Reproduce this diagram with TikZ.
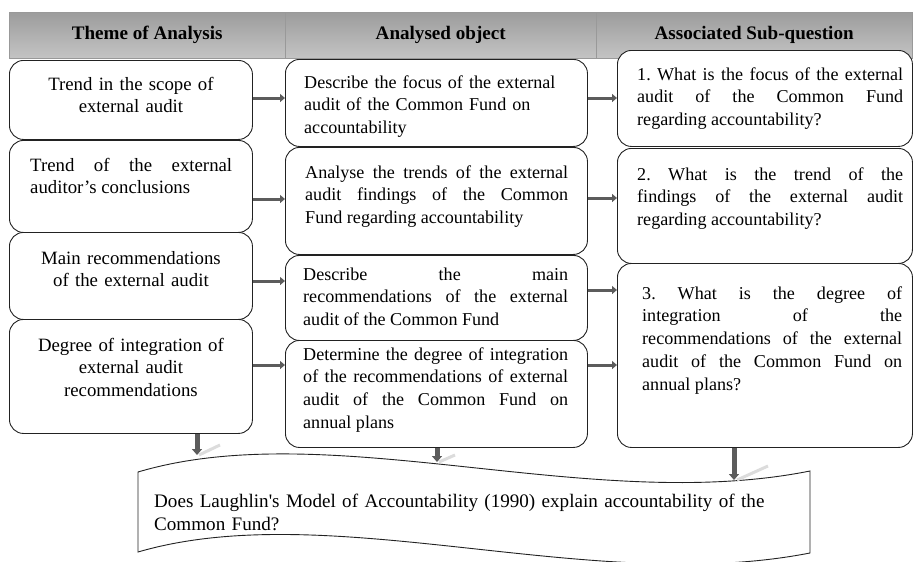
\documentclass[tikz,border=0pt]{standalone}
\usepackage{fontspec}
\setmainfont{Liberation Serif}
\usetikzlibrary{positioning}
\usetikzlibrary{arrows.meta}
\definecolor{hdtop}{HTML}{9C9C9C}
\definecolor{hdmid}{HTML}{878787}
\definecolor{hdbot}{HTML}{C4C4C4}
\definecolor{rim}{HTML}{222222}
\definecolor{arr}{HTML}{5C5C5C}
\definecolor{glint}{HTML}{DCDCDC}
\newcommand{\leftsize}{\fontsize{18.8pt}{22.8pt}\selectfont}
\newcommand{\boxsize}{\fontsize{18.1pt}{22.8pt}\selectfont}
\newcommand{\headsize}{\fontsize{19.1pt}{23pt}\selectfont\bfseries}
\tolerance=10000
\hbadness=10000
\hyphenpenalty=10000
\frenchspacing
\tikzset{
	head/.style={anchor=north west, inner sep=0pt, draw=black!40, top color=hdtop, middle color=hdmid, bottom color=hdbot, minimum height=46pt, font=\headsize},
	cell/.style={anchor=north west, inner sep=0pt, draw=rim, fill=white, line width=0.9pt, rounded corners=14pt},
	txt/.style={inner sep=0pt, font=\boxsize},
	hflow/.style={draw=arr, line width=3pt, -{Triangle[length=5pt,width=8pt]}},
	vflow/.style={draw=arr, line width=5pt, -{Triangle[length=6pt,width=10pt]}},
	glare/.style={draw=glint, line width=3pt},
}

\begin{document}
\begin{tikzpicture}[x=1pt, y=1pt]
			\useasboundingbox (0,0) rectangle (914,-562);

			\node[head, minimum width=276pt] (h1) at (9,-12) {Theme of Analysis};
			\node[head, minimum width=311pt] (h2) at (285,-12) {Analysed object};
			\node[head, minimum width=316pt] (h3) at (596,-12) {Associated Sub-question};

			\node[cell, minimum width=243pt, minimum height=79pt] (l1) at (9,-60) {};
			\node[cell, minimum width=243pt, minimum height=92pt] (l2) at (9,-140) {};
			\node[cell, minimum width=243pt, minimum height=87pt] (l3) at (9,-232) {};
			\node[cell, minimum width=243pt, minimum height=114pt] (l4) at (9,-319) {};

			\node[cell, minimum width=302pt, minimum height=87pt] (m1) at (285,-59) {};
			\node[cell, minimum width=302pt, minimum height=107pt] (m2) at (285,-147) {};
			\node[cell, minimum width=302pt, minimum height=85pt] (m3) at (285,-255) {};
			\node[cell, minimum width=302pt, minimum height=107pt] (m4) at (285,-340) {};

			\node[cell, minimum width=295pt, minimum height=96pt] (r1) at (617,-50) {};
			\node[cell, minimum width=295pt, minimum height=115pt] (r2) at (617,-148) {};
			\node[cell, minimum width=295pt, minimum height=184pt] (r3) at (617,-263) {};

			\node[txt, font=\leftsize, anchor=base, text width=230pt, align=center] (l1t) at ([yshift=-30pt]l1.north) {Trend in the scope of\\external audit};
			\node[txt, font=\leftsize, anchor=base west, text width=202pt, align=justify] (l2t) at ([xshift=21pt,yshift=-31pt]l2.north west) {Trend of the external\linebreak auditor’s conclusions};
			\node[txt, font=\leftsize, anchor=base, text width=230pt, align=center] (l3t) at ([yshift=-32pt]l3.north) {Main recommendations\\of the external audit};
			\node[txt, font=\leftsize, anchor=base, text width=230pt, align=center] (l4t) at ([yshift=-32pt]l4.north) {Degree of integration of\\external audit\\recommendations};

			\node[txt, anchor=base west, text width=265pt, align=left] (m1t) at ([xshift=19pt,yshift=-29pt]m1.north west) {Describe the focus of the external\\audit of the Common Fund on\\accountability};
			\node[txt, anchor=base west, text width=263pt, align=justify] (m2t) at ([xshift=20pt,yshift=-31pt]m2.north west) {Analyse the trends of the external\linebreak audit findings of the Common\linebreak Fund regarding accountability};
			\node[txt, anchor=base west, text width=265pt, align=justify] (m3t) at ([xshift=18pt,yshift=-25pt]m3.north west) {Describe the main\linebreak recommendations of the external\linebreak audit of the Common Fund};
			\node[txt, anchor=base west, text width=265pt, align=justify] (m4t) at ([xshift=18pt,yshift=-20pt]m4.north west) {Determine the degree of integration\linebreak of the recommendations of external\linebreak audit of the Common Fund on\linebreak annual plans};

			\node[txt, anchor=base west, text width=266pt, align=justify] (r1t) at ([xshift=20pt,yshift=-30pt]r1.north west) {1. What is the focus of the external\linebreak audit of the Common Fund\linebreak regarding accountability?};
			\node[txt, anchor=base west, text width=266pt, align=justify] (r2t) at ([xshift=20pt,yshift=-32pt]r2.north west) {2. What is the trend of the\linebreak findings of the external audit\linebreak regarding accountability?};
			\node[txt, anchor=base west, text width=260pt, align=justify] (r3t) at ([xshift=25pt,yshift=-36pt]r3.north west) {3. What is the degree of\linebreak integration of the\linebreak recommendations of the external\linebreak audit of the Common Fund on\linebreak annual plans?};

			\coordinate (a1) at ([yshift=-38pt]l1.north east);
			\coordinate (a2) at ([yshift=-59pt]l2.north east);
			\coordinate (a3) at ([yshift=-49pt]l3.north east);
			\coordinate (a4) at ([yshift=-46pt]l4.north east);
			\coordinate (b1) at ([yshift=-39pt]m1.north east);
			\coordinate (b2) at ([yshift=-51pt]m2.north east);
			\coordinate (b3) at ([yshift=-35pt]m3.north east);
			\coordinate (b4) at ([yshift=-25pt]m4.north east);
			\draw[hflow] (a1) -- (a1 -| m1.west);
			\draw[hflow] (a2) -- (a2 -| m2.west);
			\draw[hflow] (a3) -- (a3 -| m3.west);
			\draw[hflow] (a4) -- (a4 -| m4.west);
			\draw[hflow] (b1) -- (b1 -| r1.west);
			\draw[hflow] (b2) -- (b2 -| r2.west);
			\draw[hflow] (b3) -- (b3 -| r3.west);
			\draw[hflow] (b4) -- (b4 -| r3.west);

			\coordinate (wtl) at (138,-472);
			\coordinate (wtr) at (810,-471);
			\coordinate (wbr) at (810,-553);
			\coordinate (wbl) at (138,-552);
			\draw[rim, line width=0.9pt, fill=white] (wtl) .. controls (330,-415) and (590,-515) .. (wtr) -- (wbr) .. controls (590,-596) and (330,-496) .. (wbl) -- cycle;
			\node[txt, font=\fontsize{19.1pt}{23pt}\selectfont, anchor=base west, text width=640pt, align=left] (q) at (154,-507) {Does Laughlin\textquotesingle s Model of Accountability (1990) explain accountability of the\\Common Fund?};

			\coordinate (d1) at (197,-455);
			\coordinate (d2) at (437,-462);
			\coordinate (d3) at (734,-480);
			\draw[glare] ([xshift=2pt]d1) -- ++(21,10);
			\draw[glare] ([xshift=2pt]d2) -- ++(16,7);
			\draw[glare] ([xshift=3pt]d3) -- ++(31,14);
			\draw[vflow] (l4.south -| d1) -- (d1);
			\draw[vflow] (m4.south -| d2) -- (d2);
			\draw[vflow] (r3.south -| d3) -- (d3);
		\end{tikzpicture}
\end{document}
